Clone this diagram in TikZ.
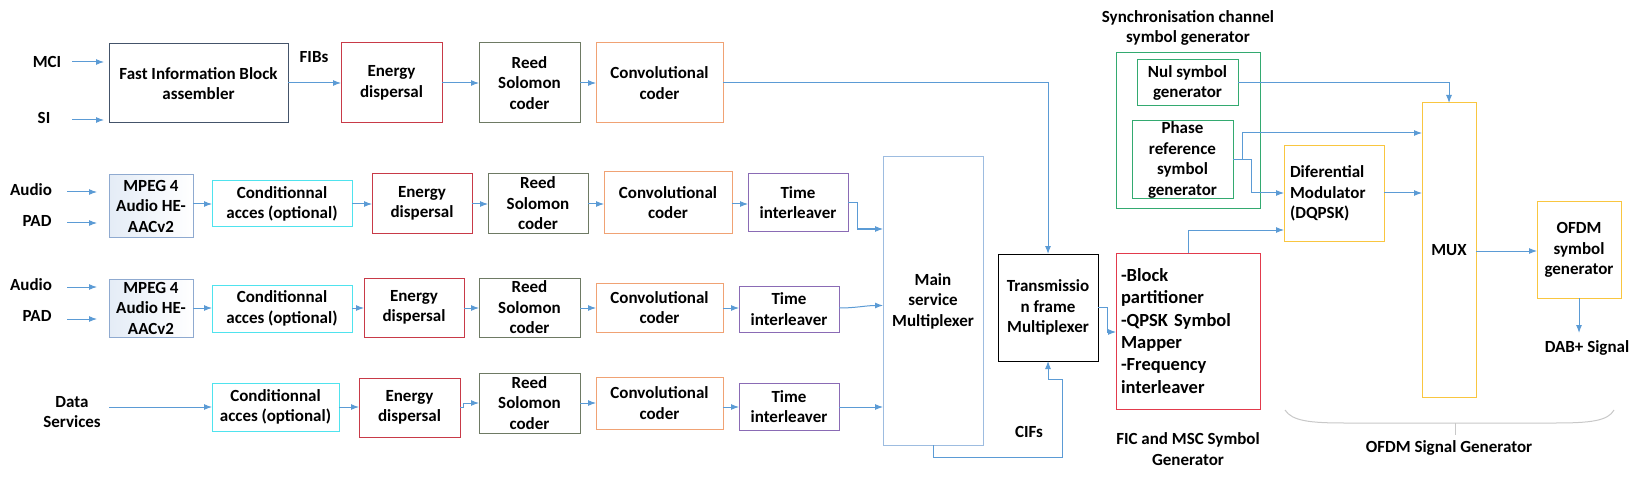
\documentclass[tikz,border=0pt]{standalone}
\usepackage{fontspec}
\setmainfont{Carlito}
\usetikzlibrary{arrows.meta,calc}
\definecolor{arrc}{HTML}{5B9BD5}
\definecolor{fibc}{HTML}{44546A}
\definecolor{enc}{HTML}{C83A48}
\definecolor{rsc}{HTML}{6E7A64}
\definecolor{cvc}{HTML}{F0A274}
\definecolor{cdc}{HTML}{4FE3EE}
\definecolor{tic}{HTML}{8A6BB5}
\definecolor{mnc}{HTML}{9DBCE0}
\definecolor{snc}{HTML}{33AA70}
\definecolor{ylc}{HTML}{F9C640}
\definecolor{ficc}{HTML}{E23A4C}
\definecolor{mpc}{HTML}{8FAAD0}
\definecolor{mpf}{HTML}{E4ECF6}
\definecolor{brc}{HTML}{C8C8C8}
\newcommand\bx[8][]{%
  \pgfmathsetmacro\bxcx{(#4+#6)/2}%
  \pgfmathsetmacro\bxcy{(#5+#7)/2}%
  \pgfmathsetmacro\bxw{#6-#4}%
  \pgfmathsetmacro\bxh{#7-#5}%
  \node[blk,draw=#3,minimum width=\bxw pt,minimum height=\bxh pt,#1] (#2) at (\bxcx,\bxcy) {#8};}
\begin{document}
\begin{tikzpicture}[x=1pt,y=-1pt,
  font=\bfseries\fontsize{17}{20.5}\selectfont,
  blk/.style={draw,line width=1pt,align=center,inner sep=1pt,outer sep=0pt,text=black},
  mpeg/.style={left color=mpf,right color=white},
  arr/.style={draw=arrc,line width=1pt,-{Latex[length=8pt,width=6pt]}},
  lbl/.style={align=center,inner sep=0pt,text=black}]
\useasboundingbox[fill=white] (0,0) rectangle (1638,481);
\coordinate (r0) at (0,83);
\coordinate (r1) at (0,204);
\coordinate (r2) at (0,308);
\coordinate (r3) at (0,407);
% row 0
\bx{FIB}{fibc}{109}{44}{288}{123}{Fast Information Block\\assembler}
\bx{E0}{enc}{341}{43}{442}{123}{Energy\\dispersal}
\bx{R0}{rsc}{479}{43}{580}{123}{Reed\\Solomon\\coder}
\bx{C0}{cvc}{596}{43}{723}{123}{Convolutional\\coder}
% row 1
\bx[mpeg]{M1}{mpc}{109}{175}{193}{237}{MPEG 4\\Audio HE-\\AACv2}
\bx{Cd1}{cdc}{212}{181}{352}{227}{Conditionnal\\acces (optional)}
\bx{E1}{enc}{372}{174}{472}{233}{Energy\\dispersal}
\bx{R1}{rsc}{488}{174}{588}{233}{Reed\\Solomon\\coder}
\bx{C1}{cvc}{604}{172}{732}{233}{Convolutional\\coder}
\bx{T1}{tic}{748}{174}{848}{231}{Time\\interleaver}
% row 2
\bx[mpeg]{M2}{mpc}{109}{279}{193}{337}{MPEG 4\\Audio HE-\\AACv2}
\bx{Cd2}{cdc}{212}{285}{352}{332}{Conditionnal\\acces (optional)}
\bx{E2}{enc}{364}{278}{464}{337}{Energy\\dispersal}
\bx{R2}{rsc}{479}{278}{580}{337}{Reed\\Solomon\\coder}
\bx{C2}{cvc}{596}{283}{723}{332}{Convolutional\\coder}
\bx{T2}{tic}{739}{286}{839}{332}{Time\\interleaver}
% row 3
\bx{Cd3}{cdc}{212}{383}{339}{431}{Conditionnal\\acces (optional)}
\bx{E3}{enc}{359}{378}{460}{437}{Energy\\dispersal}
\bx{R3}{rsc}{479}{373}{580}{433}{Reed\\Solomon\\coder}
\bx{C3}{cvc}{596}{377}{723}{429}{Convolutional\\coder}
\bx{T3}{tic}{739}{383}{839}{430}{Time\\interleaver}
% multiplexers
\bx{Main}{mnc}{883}{157}{983}{445}{Main\\service\\Multiplexer}
\bx{Trans}{black}{998}{254}{1098}{361}{Transmissio\\n frame\\Multiplexer}
\bx[align=left,text width=134pt,inner xsep=5pt,font=\bfseries\fontsize{18.5}{22.3}\selectfont]{FIC}{ficc}{1116}{253}{1260}{409}{-Block\\partitioner\\-QPSK Symbol\\Mapper\\-Frequency\\interleaver}
% synchronisation
\bx{Sync}{snc}{1116}{53}{1260}{209}{}
\bx{Nul}{snc}{1137}{60}{1238}{106}{Nul symbol\\generator}
\bx[inner sep=0pt]{Phase}{snc}{1132}{121}{1233}{199}{Phase\\reference\\symbol\\generator}
\bx[align=left,text width=88pt,inner xsep=6pt]{Diff}{ylc}{1284}{146}{1384}{241}{Diferential\\Modulator\\(DQPSK)}
\bx{MUX}{ylc}{1422}{103}{1476}{397}{MUX}
\bx{OFDM}{ylc}{1537}{202}{1621}{298}{OFDM\\symbol\\generator}
% labels
\node[lbl] (mci) at (47,62) {MCI};
\node[lbl] (si) at (44,118) {SI};
\node[lbl] (fibs) at (314,57) {FIBs};
\node[lbl] (au1) at (31,190) {Audio};
\node[lbl] (pad1) at (37,221) {PAD};
\node[lbl] (au2) at (31,285) {Audio};
\node[lbl] (pad2) at (37,316) {PAD};
\node[lbl] (data) at (72,412) {Data\\Services};
\node[lbl] (cifs) at (1029,432) {CIFs};
\node[lbl] (synct) at (1188,28) {Synchronisation channel\\symbol generator};
\node[lbl] (dab) at (1587,348) {DAB+ Signal};
\node[lbl] (ficmsc) at (1188,449) {FIC and MSC Symbol\\Generator};
\node[lbl] (ofdmsg) at (1449,448) {OFDM Signal Generator};
% input arrows
\coordinate (mci0) at (72,62);
\coordinate (si0) at (72,120);
\coordinate (a10) at (67,192);
\coordinate (p10) at (67,223);
\coordinate (a20) at (67,287);
\coordinate (p20) at (67,319);
\coordinate (d0) at (109,407);
\draw[arr,shorten >=5pt] (mci0) -- (FIB.west |- mci0);
\draw[arr,shorten >=5pt] (si0) -- (FIB.west |- si0);
\draw[arr,shorten >=12pt] (a10) -- (M1.west |- a10);
\draw[arr,shorten >=12pt] (p10) -- (M1.west |- p10);
\draw[arr,shorten >=12pt] (a20) -- (M2.west |- a20);
\draw[arr,shorten >=12pt] (p20) -- (M2.west |- p20);
\draw[arr] (d0) -- (Cd3.west |- d0);
% row 0
\draw[arr] (FIB.east |- r0) -- (E0.west |- r0);
\draw[arr] (E0.east |- r0) -- (R0.west |- r0);
\draw[arr] (R0.east |- r0) -- (C0.west |- r0);
\draw[arr] (C0.east |- r0) -| (Trans.north);
% row 1
\draw[arr] (M1.east |- r1) -- (Cd1.west |- r1);
\draw[arr] (Cd1.east |- r1) -- (E1.west |- r1);
\draw[arr] (E1.east |- r1) -- (R1.west |- r1);
\draw[arr] (R1.east |- r1) -- (C1.west |- r1);
\draw[arr] (C1.east |- r1) -- (T1.west |- r1);
\coordinate (tm1) at (857,229);
\draw[arr] (T1.east) -| (tm1) -- (Main.west |- tm1);
% row 2
\draw[arr] (M2.east |- r2) -- (Cd2.west |- r2);
\draw[arr] (Cd2.east |- r2) -- (E2.west |- r2);
\draw[arr] (E2.east |- r2) -- (R2.west |- r2);
\draw[arr] (R2.east |- r2) -- (C2.west |- r2);
\draw[arr] (C2.east |- r2) -- (T2.west |- r2);
\coordinate (tm2) at (0,305.5);
\draw[arr] (T2.east |- r2) to[out=0,in=180] (Main.west |- tm2);
% row 3
\coordinate (j3) at (463,403);
\draw[arr] (Cd3.east |- r3) -- (E3.west |- r3);
\draw[arr] (E3.east |- r3) -| (j3) -- (R3.west |- j3);
\draw[arr] (R3.east |- j3) -- (C3.west |- j3);
\draw[arr] (C3.east |- r3) -- (T3.west |- r3);
\draw[arr] (T3.east |- r3) -- (Main.west |- r3);
% CIFs
\coordinate (cf1) at (1062,457);
\coordinate (cf2) at (1048,379);
\draw[arr] (Main.south) |- (cf1) |- (cf2) -- (Trans.south);
% right part
\coordinate (tf) at (1107,332);
\draw[arr] (Trans.east) -| (tf) -- (FIC.west |- tf);
\coordinate (fd) at (1188,230);
\draw[arr] (FIC.north) -- (fd) -- (Diff.west |- fd);
\draw[arr] (Nul.east) -| (MUX.north);
\coordinate (pm) at (1242.5,133);
\coordinate (pd) at (1251.5,193);
\draw[arr] (Phase.east) -| (pd) -- (Diff.west |- pd);
\draw[arr] (Phase.east -| pm) -- (pm) -- (MUX.west |- pm);
\draw[arr] (Diff.east |- pd) -- (MUX.west |- pd);
\coordinate (mo) at (0,251);
\draw[arr] (MUX.east |- mo) -- (OFDM.west |- mo);
\coordinate (dabtip) at (1579,333);
\draw[arr] (OFDM.south) -- (dabtip);
% brace
\draw[brc,line width=1pt] (1285,410) .. controls (1292,421) and (1310,423) .. (1345,423) -- (1555,423) .. controls (1590,423) and (1608,421) .. (1614,410);
\draw[brc,line width=1pt] (1455,423) -- (1455,435);
\end{tikzpicture}
\end{document}
